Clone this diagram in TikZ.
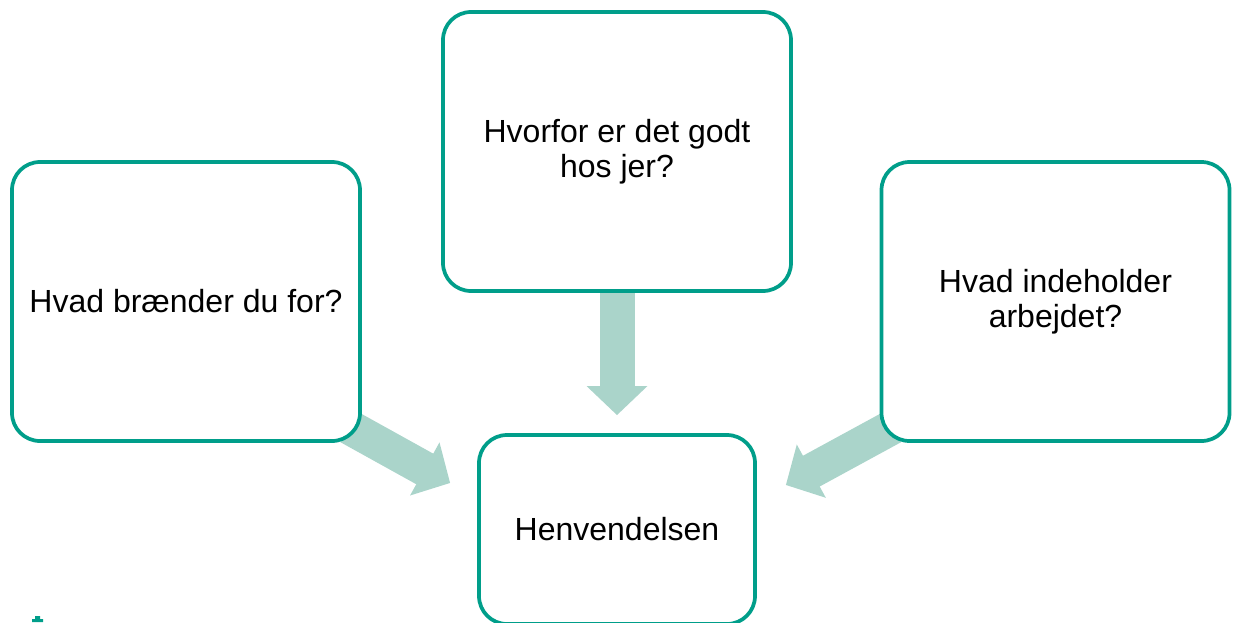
\documentclass[tikz,border=0pt]{standalone}
\usepackage{fontspec}
\setmainfont{Liberation Sans}
\usetikzlibrary{arrows.meta,backgrounds,calc}
\definecolor{boxteal}{RGB}{0,158,138}
\definecolor{arrowmint}{RGB}{170,212,202}

\begin{document}
\begin{tikzpicture}[x=0.75pt,y=-0.75pt,
  box/.style={draw=boxteal,line width=2.8pt,rounded corners=21pt,fill=white,
    align=center,inner sep=0pt,font=\fontsize{24}{26.3}\selectfont},
  bigbox/.style={box,minimum width=261pt,minimum height=209.25pt},
  flow/.style={draw=arrowmint,line width=26.25pt,
    -{Triangle[length=21.75pt,width=44.25pt]}}]
  \useasboundingbox (0,0) rectangle (1233,622);

  \node[bigbox] (passion) at (186,301.5) {Hvad brænder du for?};
  \node[bigbox] (why) at (617,151.5) {Hvorfor er det godt\\hos jer?};
  \node[bigbox] (work) at (1055.5,301.5) {Hvad indeholder\\arbejdet?};
  \node[box,minimum width=207pt,minimum height=141.75pt] (goal) at (617,529.5) {Henvendelsen};

  \coordinate (lefttip) at ($(goal.west)+(-27,-46.5)$);
  \coordinate (righttip) at ($(goal.east)+(29,-44.5)$);
  \coordinate (toptip) at ($(goal.north)+(0,-18)$);

  \begin{scope}[on background layer]
    \draw[flow] (why.south) -- (toptip);
    \draw[flow] ($(passion.south east)+(-13,-16)$) -- (lefttip);
    \draw[flow] ($(work.south west)+(13,-16)$) -- (righttip);
  \end{scope}

  \fill[boxteal] (32,622) -- (32,619) -- (35,619) -- (35,616) -- (40,616)
    -- (40,619) -- (43,619) -- (43,622) -- cycle;
\end{tikzpicture}
\end{document}
